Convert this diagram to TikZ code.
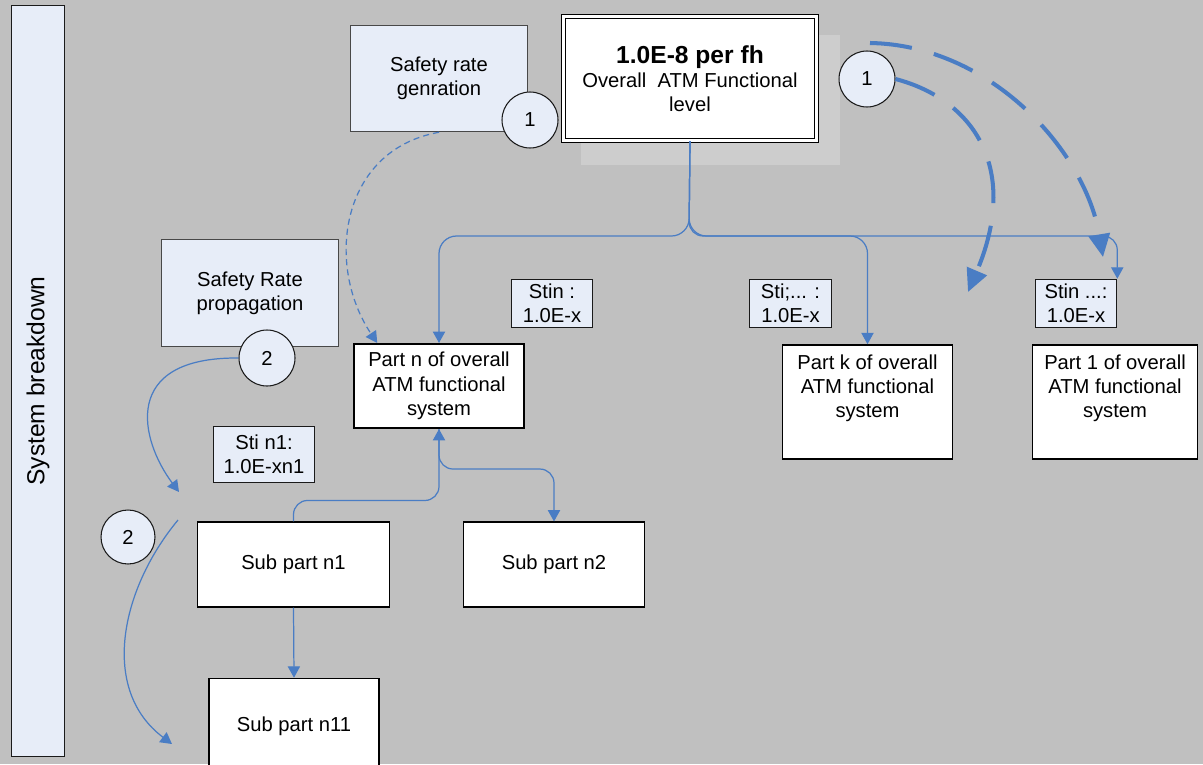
\documentclass[tikz,border=0pt]{standalone}
\usepackage{fontspec}
\setmainfont{Liberation Sans}
\usetikzlibrary{arrows.meta,positioning,shapes.geometric,calc}
\definecolor{canvas}{HTML}{C0C0C0}
\definecolor{paleblue}{HTML}{E7EDF8}
\definecolor{flow}{HTML}{4A7DC4}
\definecolor{halo}{HTML}{CDCDCD}
\definecolor{edge}{HTML}{1A1A1A}

\begin{document}
\begin{tikzpicture}[
  x=0.02cm, y=-0.02cm,
  >={Triangle[length=6.5pt,width=7pt]},
  part/.style={draw=black, line width=0.9pt, fill=white, minimum width=3.4cm, minimum height=1.69cm, align=center, inner sep=1pt, font=\fontsize{11.5}{13.8}\selectfont},
  rate/.style={draw=edge!80, line width=0.6pt, fill=paleblue, minimum width=3.54cm, minimum height=2.13cm, align=center, font=\fontsize{11.5}{13.8}\selectfont},
  stin/.style={draw=edge, line width=0.6pt, fill=paleblue, minimum width=1.63cm, minimum height=0.97cm, inner sep=1pt, align=center, font=\fontsize{11.5}{13.8}\selectfont},
  num/.style={circle, draw=edge, line width=0.6pt, fill=paleblue, minimum size=1.12cm, inner sep=0pt, font=\fontsize{11.5}{13.8}\selectfont},
  link/.style={->, draw=flow, line width=0.7pt},
  hint/.style={->, draw=flow, line width=0.7pt, dash pattern=on 3.5pt off 2.3pt},
  jump/.style={-{Triangle[length=13pt,width=12pt]}, draw=flow, line width=2.3pt, dash pattern=on 24pt off 13pt},
]

\useasboundingbox (0,0) rectangle (1203,764);
\fill[canvas] (0,0) rectangle (1203,764);

\node[draw=edge, line width=0.6pt, fill=paleblue, rotate=90, minimum width=15.02cm, minimum height=1.07cm, font=\fontsize{14}{16}\selectfont] (strip) at (38,381) {System breakdown};

\fill[halo] (581,35) rectangle (840,165);
\node[part, double=white, double distance=1.4pt, line width=0.8pt, minimum width=5.06cm, minimum height=2.48cm] (top) at (690,78.5) {{\fontsize{14}{17}\selectfont\bfseries 1.0E-8 per fh}\\Overall\ \ ATM Functional\\level};

\node[rate] (gen) at (439,78.5) {Safety rate\\genration};
\node[rate] (prop) at (250,293) {Safety Rate\\propagation};

\node[stin] (stn) at (552,303.5) {Stin :\\1.0E-x};
\node[stin] (stk) at (790.5,303.5) {Sti;... :\\1.0E-x};
\node[stin] (st1) at (1076,303.5) {Stin ...:\\1.0E-x};
\node[stin, minimum width=2.03cm, minimum height=1.13cm] (stn1) at (264,454.5) {Sti n1:\\1.0E-xn1};

\node[part] (partn) at (439,386) {Part n of overall\\ATM functional\\system};
\node[part, minimum height=2.28cm] (partk) at (867.5,402) {Part k of overall\\ATM functional\\system\\\strut};
\node[part, minimum width=3.3cm, minimum height=2.28cm] (part1) at (1115,402) {Part 1 of overall\\ATM functional\\system\\\strut};

\node[part, minimum width=3.84cm] (sub1) at (293.5,564.5) {Sub part n1};
\node[part, minimum width=3.62cm] (sub2) at (554,564.5) {Sub part n2};
\node[part, minimum height=1.9cm] (sub11) at (294,726) {Sub part n11};

\node[num] (onegen) at (530,120) {1};
\node[num] (onejump) at (867,79) {1};
\node[num] (twoprop) at (267,358) {2};
\node[num, minimum size=1.08cm] (twosub) at (128,537) {2};

\coordinate (fork) at (689,236);
\coordinate (dropA) at (179,492);
\coordinate (dropB) at (178,520);
\coordinate (dropC) at (172,744);
\coordinate (arcA) at (870,43);
\coordinate (arcAend) at (1103,257);
\coordinate (arcBend) at (968,292);

\draw[link, rounded corners=10pt] (top.south) -- (fork) -| (partn.north);
\draw[link, rounded corners=10pt] (top.south) -- (fork) -| (partk.north);
\draw[link, rounded corners=8pt] (top.south) -- (fork) -| (st1.north east);

\draw[hint] (gen.south) .. controls (340,150) and (325,265) .. ([xshift=0.48cm]partn.north west);

\draw[link, rounded corners=8pt] (sub1.north) -- ++(0,-21) -| (partn.south);
\draw[link, rounded corners=8pt] (partn.south) -- ++(0,40) -| (sub2.north);
\draw[link] (sub1.south) -- (sub11.north);

\draw[link] (twoprop.west) .. controls (120,357) and (140,440) .. (dropA);
\draw[link] (dropB) .. controls (120,590) and (100,690) .. (dropC);

\draw[jump] (arcA) .. controls (990,45) and (1085,150) .. (arcAend);
\draw[jump] (onejump.east) .. controls (975,100) and (1020,170) .. (arcBend);

\end{tikzpicture}
\end{document}
